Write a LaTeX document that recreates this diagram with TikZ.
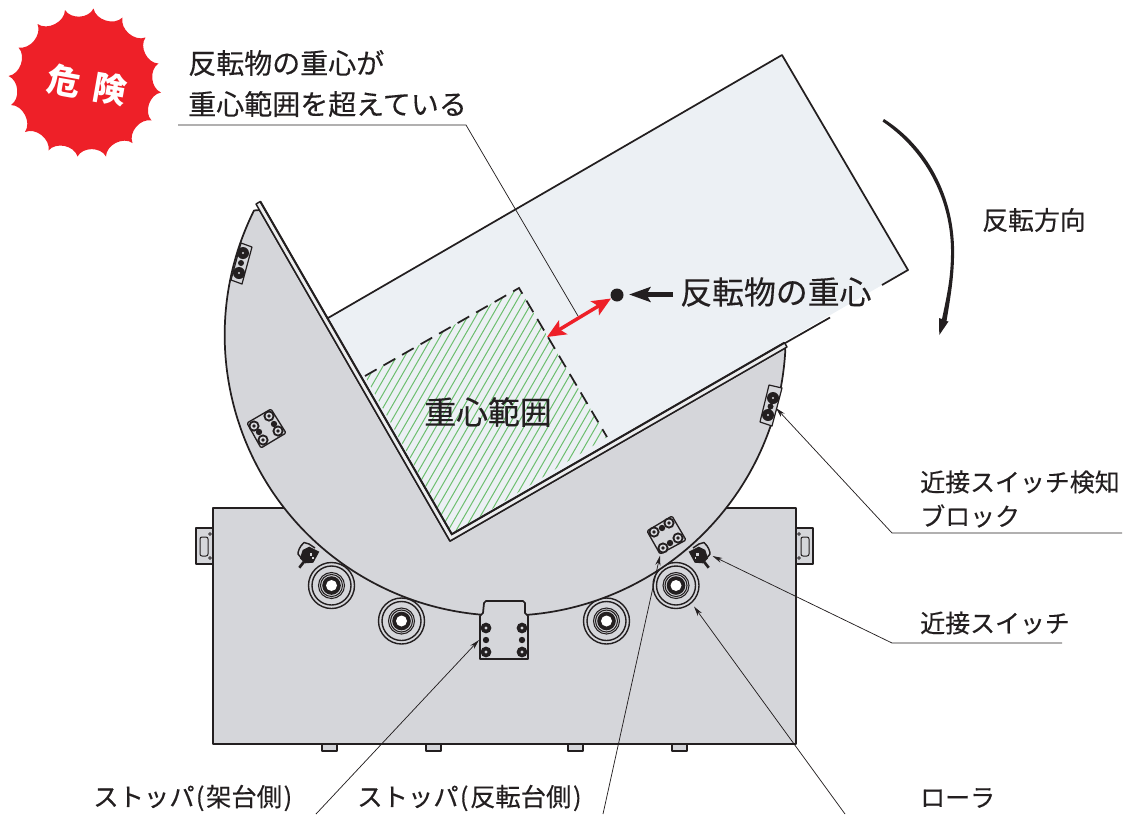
\documentclass[tikz,border=0pt]{standalone}
\usepackage{fontspec}
\usetikzlibrary{arrows.meta}
\newfontfamily\cjk[FakeBold=0.3]{Noto Sans CJK JP}
\newfontfamily\cjkheavy{Noto Sans CJK JP}
\definecolor{ink}{HTML}{231F20}
\definecolor{steel}{HTML}{D5D6DA}
\definecolor{pale}{HTML}{ECF0F4}
\definecolor{hatchgreen}{HTML}{6CBE6E}
\definecolor{alarm}{HTML}{EE2028}
\tikzset{
  outline/.style={draw=ink,line width=1.3pt,line join=round},
  leader/.style={draw=ink,line width=0.55pt},
  leadertip/.style={leader,-{Stealth[length=7.5pt,width=3.8pt]}},
  lbl/.style={inner sep=0pt,anchor=west,text=ink},
  lblA/.style={lbl,font=\cjk\fontsize{21}{21}\selectfont},
  lblB/.style={lbl,font=\cjk\fontsize{18.7}{21}\selectfont},
  lblC/.style={lbl,font=\cjk\fontsize{23.9}{24}\selectfont},
  lblD/.style={lbl,font=\cjk\fontsize{19}{21}\selectfont},
  ring/.style={draw=ink,line width=0.75pt,fill=none},
}
\newcommand{\boltA}[2]{\fill[ink] (#1,#2) circle (5.4); \fill[steel] (#1,#2) circle (1.6);}
\newcommand{\boltB}[2]{\fill[ink] (#1,#2) circle (5.6); \fill[steel] (#1,#2) circle (3.5); \fill[ink] (#1,#2) circle (1.9);}
\newcommand{\pinhole}[2]{\fill[ink] (#1,#2) circle (3.2);}
\newcommand{\roller}[2]{%
  \draw[ring,line width=1.05pt] (#1,#2) circle (23) (#1,#2) circle (19.5);
  \draw[ring,line width=0.8pt] (#1,#2) circle (13) (#1,#2) circle (11);
  \fill[ink] (#1,#2) circle (9.3);
  \fill[white] (#1,#2) circle (5.5);}
\newcommand{\proxsw}[2]{%
  \begin{scope}[shift={(#1,555)},xscale=#2]
    \draw[outline,line width=1.1pt] (8,-7) -- (2,-11) -- (-3,-12.5) .. controls (-8,-8) and (-9,-3) .. (-9,-1) -- (-5,4);
    \fill[ink] (-4.3,-5) -- (2.3,-8.3) -- (12.3,-3.3) -- (6.3,7.7) -- (-2,8.3) -- (-7,3.3) -- cycle;
    \fill[steel] (2.5,-2) rectangle (5,0.5);
    \fill[steel] (5,2) rectangle (6.5,3.5);
    \draw[ink,line width=2pt] (-3,6.7) -- (-7.7,12.7);
  \end{scope}}
\begin{document}
\begin{tikzpicture}[x=0.75pt,y=-0.75pt]
\useasboundingbox (0,0) rectangle (1128,814);

% starburst
\coordinate (s1) at (65,10); \coordinate (s2) at (93.5,8.5); \coordinate (s3) at (122.5,17.5);
\coordinate (s4) at (145.5,37.5); \coordinate (s5) at (158.5,63.5); \coordinate (s6) at (161,92.5);
\coordinate (s7) at (151.5,120.5); \coordinate (s8) at (132.5,143); \coordinate (s9) at (106,156.5);
\coordinate (s10) at (77.5,156.5); \coordinate (s11) at (48.5,150.5); \coordinate (s12) at (25,132);
\coordinate (s13) at (11,105); \coordinate (s14) at (8.5,76); \coordinate (s15) at (18.5,47.5);
\coordinate (s16) at (37.5,24);
\fill[alarm] (s1) to[bend right=62] (s2) to[bend right=62] (s3) to[bend right=62] (s4) to[bend right=62] (s5)
  to[bend right=62] (s6) to[bend right=62] (s7) to[bend right=62] (s8) to[bend right=62] (s9)
  to[bend right=62] (s10) to[bend right=62] (s11) to[bend right=62] (s12) to[bend right=62] (s13)
  to[bend right=62] (s14) to[bend right=62] (s15) to[bend right=62] (s16) to[bend right=62] (s1) -- cycle;
\node[inner sep=0pt,text=white,rotate=-10,font=\cjkheavy\bfseries\fontsize{25}{25}\selectfont] (dangerA) at (64.5,80.5) {危};
\node[inner sep=0pt,text=white,rotate=-10,font=\cjkheavy\bfseries\fontsize{25}{25}\selectfont] (dangerB) at (110.5,89) {険};

% base frame
\foreach \fx in {322,426,568,672} {\draw[outline,line width=0.8pt,fill=steel] (\fx,744) rectangle (\fx+15,751);}
\draw[outline,fill=steel] (196,528) rectangle (213,564);
\draw[ring,rounded corners=1.5] (200,537) rectangle (208,556);
\draw[ring,line width=0.5pt] (210,534) circle (1.4) (210,558) circle (1.4);
\begin{scope}[shift={(1009,0)},xscale=-1]
  \draw[outline,fill=steel] (196,528) rectangle (213,564);
  \draw[ring,rounded corners=1.5] (200,537) rectangle (208,556);
  \draw[ring,line width=0.5pt] (210,534) circle (1.4) (210,558) circle (1.4);
\end{scope}
\draw[outline,line width=1.5pt,fill=steel] (213,508) rectangle (796,744);
\roller{331.5}{585.5}\roller{401.5}{621}\roller{606.5}{621}\roller{676}{585.5}
\proxsw{307}{1}\proxsw{701}{-1}

% load
\fill[pale] (328,318) -- (782,55) -- (908,270) -- (452,534) -- cycle;
\begin{scope}
  \clip (365,376) -- (519,288) -- (607,437) -- (452,534) -- cycle;
  \foreach \hx in {200,208,...,570} {\draw[hatchgreen,line width=0.75pt] (\hx,600) -- (\hx+231,200);}
\end{scope}
\draw[outline] (328,318) -- (782,55) -- (908,270) -- (882,285);
\draw[outline] (830,317.5) -- (780,346);
\draw[ink,line width=1.3pt,dash pattern=on 10pt off 6pt] (365,376) -- (519,288) -- (607,437);

% turntable disc and L plate
\draw[outline,fill=steel] (254,210.5) arc[start angle=206.4,end angle=3.3,radius=280.5] -- (785,348) -- (450,541) -- (259.5,210) -- cycle;
\draw[outline,line width=1.1pt,fill=steel!45!white] (256,204) -- (260.3,201.5) -- (451.8,534.2) -- (784.5,342.7) -- (787,347) -- (450,541) -- cycle;
\draw[ink,line width=1.5pt] (260.3,201.5) -- (451.8,534.2) -- (784.5,342.7);

% blocks on disc
\draw[outline,line width=1pt,fill=steel,rounded corners=1] (647,531) -- (672,516) -- (686,540) -- (660,554) -- cycle;
\boltB{654}{532}\boltB{669}{523}\boltB{663}{548}\boltB{678}{538}\pinhole{662}{528}\pinhole{670}{543}
\draw[outline,line width=1pt,fill=steel,rounded corners=1] (247,423) -- (271,409) -- (286,433) -- (261,448) -- cycle;
\boltB{254}{426}\boltB{269}{416}\boltB{263}{440}\boltB{278}{431}\pinhole{259}{432}\pinhole{274}{424}
\draw[outline,line width=0.9pt,fill=steel] (241,243) -- (252,247) -- (242,284) -- (231,280) -- cycle;
\fill[ink] (243,253) circle (6) (239,273) circle (6) (241,263) circle (3);
\fill[steel] (243,253) circle (1.2) (239,273) circle (1.2);
\draw[outline,line width=0.9pt,fill=steel] (769,385) -- (782,388) -- (772,426) -- (760,422) -- cycle;
\fill[ink] (773,398) circle (6) (768,415) circle (6) (770.5,406.5) circle (3);
\fill[steel] (773,398) circle (1.2) (768,415) circle (1.2);

% stopper
\draw[outline,fill=steel] (480,616) -- (483,613) -- (484,603) -- (486,601) -- (523,601) -- (525,603) -- (525,613) -- (528,616) -- (528,659) -- (480,659) -- cycle;
\boltA{486}{628}\boltA{522}{628}\boltA{486}{652}\boltA{522}{652}\pinhole{486}{640}\pinhole{522}{640}

% centre of gravity marks
\node[circle,fill=ink,inner sep=0pt,minimum size=9.75pt] (cog) at (617,295) {};
\coordinate (cogtail) at (673,294.5);
\coordinate (cogtip) at (629,294.5);
\draw[ink,line width=4pt,-{Stealth[length=16pt,width=11pt,inset=3pt]}] (cogtail) -- (cogtip);
\coordinate (gapA) at (611,298.5);
\coordinate (gapB) at (547,337);
\draw[alarm,line width=2.6pt,{Stealth[length=14pt,width=12pt,inset=3pt]}-{Stealth[length=14pt,width=12pt,inset=3pt]}] (gapA) -- (gapB);

% rotation direction
\coordinate (rotA) at (884,119);
\coordinate (rotB) at (939.3,335);
\fill[ink] (rotA) .. controls (925,145) and (956,195) .. (954,258) .. controls (953.5,280) and (950,300) .. (946.5,321)
  -- (948.5,321.5) -- (rotB) -- (939,318) -- (942,319) .. controls (947,295) and (950.5,280) .. (951,255) .. controls (952,197) and (923,149) .. (882.5,121.5) -- cycle;

% leaders
\coordinate (lA1) at (178,125); \coordinate (lA2) at (466,125); \coordinate (lA3) at (578,316);
\draw[leader] (lA1) -- (lA2) -- (lA3);
\coordinate (lB1) at (1122,533); \coordinate (lB2) at (892,533); \coordinate (lB3) at (776,408);
\draw[leadertip] (lB1) -- (lB2) -- (lB3);
\coordinate (lC1) at (1062,643); \coordinate (lC2) at (892,643); \coordinate (lC3) at (712.5,556);
\draw[leadertip] (lC1) -- (lC2) -- (lC3);
\coordinate (lD1) at (845,814); \coordinate (lD2) at (694,606.5);
\draw[leadertip] (lD1) -- (lD2);
\coordinate (lE1) at (603,814); \coordinate (lE2) at (660,555.5);
\draw[leadertip] (lE1) -- (lE2);
\coordinate (lF1) at (316,814); \coordinate (lF2) at (479,640);
\draw[leadertip] (lF1) -- (lF2);

% labels
\node[lblA] (t1) at (188,63) {反転物の重心が};
\node[lblA] (t2) at (188,104) {重心範囲を超えている};
\node[lblB,font=\cjk\fontsize{19.4}{21}\selectfont] (t3) at (982,220) {反転方向};
\node[lblC] (t4) at (680,292) {反転物の重心};
\node[lblC] (t5) at (424,412) {重心範囲};
\node[lblB] (t6) at (920,482) {近接スイッチ検知};
\node[lblB] (t7) at (920,516) {ブロック};
\node[lblB] (t8) at (920,623) {近接スイッチ};
\node[lblB] (t9) at (920,798) {ローラ};
\node[lblD] (t10) at (93,798) {ストッパ\kern1pt(\kern1.2pt架台側\kern1.2pt)};
\node[lblD] (t11) at (357,798) {ストッパ\kern1pt(\kern1.2pt反転台側\kern1.2pt)};
\end{tikzpicture}
\end{document}
